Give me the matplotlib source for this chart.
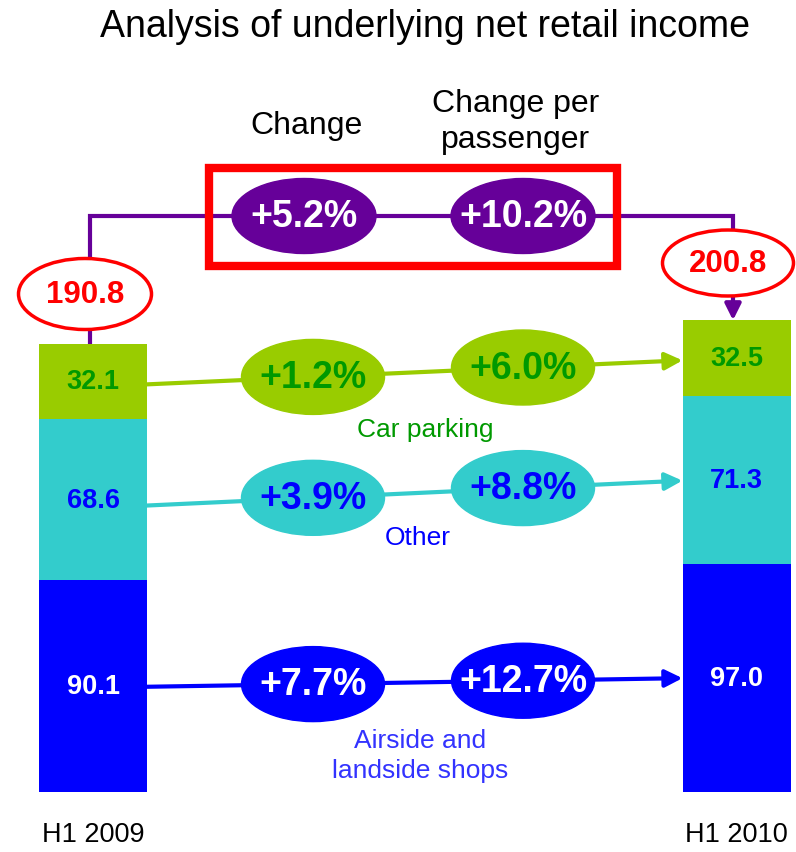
import matplotlib.pyplot as plt
import numpy as np
from matplotlib.patches import Ellipse, Rectangle

plt.rcParams['font.family'] = ['Liberation Sans', 'DejaVu Sans']

# DATA
periods = ["H1 2009", "H1 2010"]
segments = ["Airside and\nlandside shops", "Other", "Car parking"]
values_2009 = [90.1, 68.6, 32.1]
values_2010 = [97.0, 71.3, 32.5]
totals = [190.8, 200.8]
change = ["+7.7%", "+3.9%", "+1.2%"]
change_per_pax = ["+12.7%", "+8.8%", "+6.0%"]
total_change = "+5.2%"
total_change_per_pax = "+10.2%"

# STYLE
seg_colors = ["#0000FF", "#33CCCC", "#99CC00"]
value_colors = ["white", "#0000FF", "#009900"]
label_colors = ["#3333FF", "#0000FF", "#009900"]
PURPLE = "#660099"
RED = "#FF0000"

W, H = 796, 853
scale = 2.347  # px per unit
base = 60.5    # px from bottom of figure to zero line

fig = plt.figure(figsize=(W / 100, H / 100), dpi=100)
ax = fig.add_axes([0, 0, 1, 1])
ax.set_xlim(0, W)
ax.set_ylim(-base / scale, (H - base) / scale)
ax.axis('off')


def vy(ypx):
    # pixel row (from top) -> data y
    return (H - ypx - base) / scale


def vh(hpx):
    return hpx / scale


x_bar = [93, 736.5]
bar_w = 108

# stacked bars
bottom09 = np.concatenate([[0], np.cumsum(values_2009)[:-1]])
bottom10 = np.concatenate([[0], np.cumsum(values_2010)[:-1]])
for i in range(3):
    ax.bar(x_bar, [values_2009[i], values_2010[i]], width=bar_w,
           bottom=[bottom09[i], bottom10[i]], color=seg_colors[i], zorder=2)
    for xb, b, v in [(x_bar[0], bottom09[i], values_2009[i]),
                     (x_bar[1], bottom10[i], values_2010[i])]:
        ax.text(xb, b + v / 2, f"{v:.1f}", color=value_colors[i], fontsize=19.5,
                fontweight='bold', ha='center', va='center', zorder=5)

# segment arrows with change ellipses
x_left = x_bar[0] + bar_w / 2
x_right = x_bar[1] - bar_w / 2
off_left = [1, 6, 3]     # px the arrow sits below the segment middle
off_right = [0.5, 0.5, 2]
label_pos = [(420, 756), (418, 538), (425, 430)]
for i in range(3):
    y0 = bottom09[i] + values_2009[i] / 2 - vh(off_left[i])
    y1 = bottom10[i] + values_2010[i] / 2 - vh(off_right[i])
    ax.annotate("", xy=(x_right, y1), xytext=(x_left, y0),
                arrowprops=dict(arrowstyle='-|>', color=seg_colors[i], lw=3,
                                mutation_scale=26, shrinkA=0, shrinkB=0),
                zorder=3)
    for xe, txt in [(313, change[i]), (523, change_per_pax[i])]:
        ye = np.interp(xe, [x_left, x_right], [y0, y1])
        ax.add_patch(Ellipse((xe, ye), 143, vh(75), color=seg_colors[i], zorder=4))
        ax.text(xe, ye, txt, color=value_colors[i], fontsize=27,
                fontweight='bold', ha='center', va='center', zorder=5)
    lx, ly = label_pos[i]
    ax.text(lx, vy(ly), segments[i], color=label_colors[i], fontsize=19,
            ha='center', va='center', linespacing=1.3)

# total connector
y_top = vy(217)
xl, xr = 90, 733
ax.plot([xl, xl, xr, xr], [totals[0], y_top, y_top, vy(292)],
        color=PURPLE, lw=3, zorder=1, solid_joinstyle='miter')
ax.annotate("", xy=(xr, totals[1]), xytext=(xr, vy(292)),
            arrowprops=dict(arrowstyle='-|>', color=PURPLE, lw=3,
                            mutation_scale=24, shrinkA=0, shrinkB=0), zorder=1)

# total ellipses
for (cx, cy, w, h), t in zip([(85, 295, 133, 71), (728, 264, 131, 66)], totals):
    ax.add_patch(Ellipse((cx, vy(cy)), w, vh(h), facecolor='white',
                         edgecolor=RED, lw=2.5, zorder=4))
    ax.text(cx, vy(cy), f"{t:.1f}", color=RED, fontsize=22.5, fontweight='bold',
            ha='center', va='center', zorder=5)

# red box with overall changes
ax.add_patch(Rectangle((209, vy(267)), 408, vh(98), fill=False,
                       edgecolor=RED, lw=6, zorder=3))
for xe, txt in [(304, total_change), (523, total_change_per_pax)]:
    ax.add_patch(Ellipse((xe, y_top), 144, vh(75), color=PURPLE, zorder=4))
    ax.text(xe, y_top, txt, color='white', fontsize=27, fontweight='bold',
            ha='center', va='center', zorder=5)

# headers and title
ax.text(306, vy(126), "Change", fontsize=23, ha='center', va='center')
ax.text(516, vy(122), "Change per\npassenger", fontsize=23, ha='center',
        va='center', linespacing=1.3)
ax.text(425, vy(27), "Analysis of underlying net retail income", fontsize=27,
        ha='center', va='center')

for xb, p in zip([93, 736], periods):
    ax.text(xb, vy(835), p, fontsize=19.5, ha='center', va='center')

fig.savefig("out.png", dpi=100)
